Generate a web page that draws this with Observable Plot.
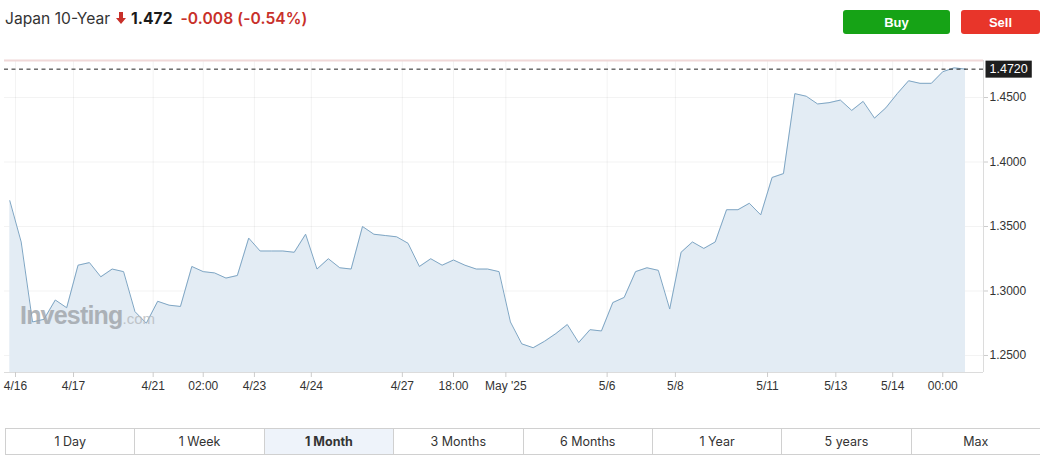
<!DOCTYPE html>
<html><head><meta charset="utf-8">
<script src="https://cdn.jsdelivr.net/npm/d3@7"></script>
<script src="https://cdn.jsdelivr.net/npm/@observablehq/plot@0.6"></script>
<style>
body{margin:0;background:#fff;font-family:Inter,"Noto Sans",sans-serif;width:1040px;height:461px;overflow:hidden;position:relative}
#hdr{position:absolute;left:5px;top:7px;height:22px;font-size:15.6px;color:#333;display:flex;align-items:center;white-space:nowrap}
#hdr .px{font-weight:700;color:#1a1a1a;margin-left:5px}
#hdr .chg{color:#c8302a;font-weight:600;margin-left:8px;letter-spacing:0.1px}
#hdr svg{margin-left:6px}
.btn{position:absolute;top:10px;height:24px;border-radius:3px;color:#fff;font-weight:700;font-size:13px;display:flex;align-items:center;justify-content:center;font-family:"Liberation Sans",Arial,sans-serif}
#buy{left:843px;width:107px;background:#16a316}
#sell{left:961px;width:79px;background:#e8352a}
#chart{position:absolute;left:0;top:45px}
#wm{position:absolute;left:20px;top:301px;color:#9ea3a8;opacity:0.8;font-family:"Liberation Sans",Arial,sans-serif;white-space:nowrap;pointer-events:none}
#wm b{font-size:25px;letter-spacing:-0.8px}
#wm span{font-size:15px;color:#b5b9bd}
#tabs{position:absolute;left:5px;top:428px;width:1035px;height:27px;display:flex;border-top:1px solid #d0d0d0;border-bottom:1px solid #d0d0d0;box-sizing:border-box}
#tabs div{flex:1;display:flex;align-items:center;justify-content:center;font-size:12.5px;color:#333;border-left:1px solid #d0d0d0}
#tabs div.act{background:#eef3fa;font-weight:700}
</style></head>
<body>
<div id="hdr"><span>Japan 10-Year</span>
<svg width="10" height="12" viewBox="0 0 10 12"><path d="M3 0h4v6h3l-5 6l-5-6h3z" fill="#c8302a"/></svg>
<span class="px">1.472</span><span class="chg">-0.008 (-0.54%)</span></div>
<div class="btn" id="buy">Buy</div>
<div class="btn" id="sell">Sell</div>
<div id="chart"></div>
<div id="wm"><b>Investing</b><span>.com</span></div>
<div id="tabs"></div>
<script>
const values = [1.370,1.338,1.276,1.278,1.293,1.287,1.320,1.322,1.311,1.317,
1.315,1.284,1.275,1.292,1.289,1.288,1.319,1.315,1.314,1.310,
1.312,1.341,1.331,1.331,1.331,1.330,1.344,1.317,1.325,1.318,
1.317,1.350,1.344,1.343,1.342,1.337,1.319,1.325,1.320,1.324,
1.320,1.317,1.317,1.315,1.276,1.259,1.256,1.261,1.267,1.274,
1.260,1.270,1.269,1.291,1.295,1.315,1.318,1.316,1.286,1.330,
1.338,1.333,1.338,1.363,1.363,1.368,1.359,1.388,1.391,1.453,
1.451,1.445,1.446,1.448,1.440,1.447,1.434,1.442,1.453,1.463,
1.461,1.461,1.470,1.473,1.472];
const tickPos = [0.5,5.6,12.6,17.0,21.5,26.5,34.5,39.0,43.6,52.5,58.5,66.6,72.6,77.6,82.0];
const tickLabels = ["4/16","4/17","4/21","02:00","4/23","4/24","4/27","18:00","May '25","5/6","5/8","5/11","5/13","5/14","00:00"];
const yTicks = [1.25,1.30,1.35,1.40,1.45];
const lastValue = 1.472;
const tabLabels = ["1 Day","1 Week","1 Month","3 Months","6 Months","1 Year","5 years","Max"];
const activeTab = "1 Month";

const data = values.map((v,i)=>({i,v}));
const xDom = [-0.466,85.58];
const yDom = [1.2368,1.4787];
const labelOf = new Map(tickPos.map((p,k)=>[p,tickLabels[k]]));

const chart = Plot.plot({
  width:1040, height:355,
  marginLeft:4, marginRight:57, marginTop:15, marginBottom:28,
  style:{fontFamily:"'Liberation Sans',Arial,sans-serif",fontSize:"12px",color:"#333",background:"transparent"},
  x:{domain:xDom, axis:null, label:null},
  y:{domain:yDom, axis:null, label:null},
  marks:[
    Plot.gridY(yTicks,{stroke:"#000",strokeOpacity:0.05}),
    Plot.gridX(tickPos,{stroke:"#000",strokeOpacity:0.05}),
    Plot.areaY(data,{x:"i",y1:yDom[0],y2:"v",fill:"#e3ecf4",curve:"linear"}),
    Plot.lineY(data,{x:"i",y:"v",stroke:"#7fa6c4",strokeWidth:1}),
    Plot.ruleY([yDom[1]],{stroke:"#f0d8d8",strokeWidth:2}),
    Plot.ruleY([yDom[0]],{stroke:"#dcdcdc"}),
    Plot.ruleX([xDom[1]],{stroke:"#dcdcdc"}),
    Plot.ruleY([lastValue],{stroke:"#222",strokeDasharray:"4,3.5",strokeWidth:1}),
    Plot.axisX(tickPos,{tickFormat:d=>labelOf.get(d),tickSize:5,tickPadding:4,stroke:"#ccc",fill:"#333",fontSize:12,label:null}),
    Plot.axisY(yTicks,{anchor:"right",tickFormat:d3.format(".4f"),tickSize:4,tickPadding:2,stroke:"#ccc",fill:"#333",fontSize:12,label:null}),
    Plot.text([lastValue],{y:d=>d,frameAnchor:"right",dx:6,textAnchor:"start",text:d=>d.toFixed(4),fill:"#fff",fontSize:12.5,className:"lastlbl"})
  ]
});
document.getElementById("chart").appendChild(chart);
// background box behind last value label
const t = chart.querySelector(".lastlbl text");
if (t) {
  const b = t.getBBox();
  const r = document.createElementNS("http://www.w3.org/2000/svg","rect");
  r.setAttribute("x", b.x-4); r.setAttribute("y", b.y-1.5);
  r.setAttribute("width", b.width+8); r.setAttribute("height", b.height+3);
  r.setAttribute("fill","#1e1e1e");
  if (t.getAttribute("transform")) r.setAttribute("transform", t.getAttribute("transform"));
  t.parentNode.insertBefore(r, t);
}
const tabs = d3.select("#tabs");
tabLabels.forEach(l=>tabs.append("div").attr("class", l===activeTab?"act":null).text(l));
</script>
</body></html>
